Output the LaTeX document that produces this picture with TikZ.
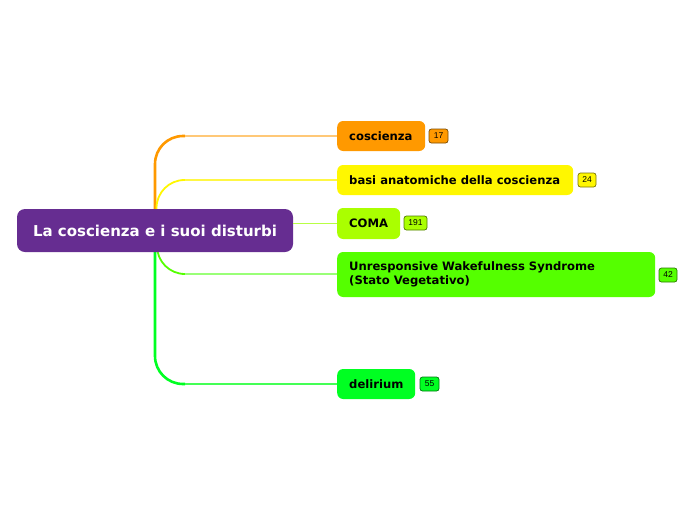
\documentclass[tikz,border=0pt]{standalone}
\usepackage{fontspec}
\setmainfont{DejaVu Sans}
\newfontfamily\badgefont{Liberation Sans}
\definecolor{cpurple}{HTML}{662D91}
\definecolor{corange}{HTML}{FF9900}
\definecolor{lorange}{HTML}{FFC877}
\definecolor{borange}{HTML}{7A4A00}
\definecolor{cyellow}{HTML}{FFF700}
\definecolor{lyellow}{HTML}{FFF744}
\definecolor{byellow}{HTML}{7A7400}
\definecolor{ccoma}{HTML}{AAFF00}
\definecolor{lcoma}{HTML}{B8FF44}
\definecolor{bcoma}{HTML}{4E7A00}
\definecolor{cuws}{HTML}{55FF00}
\definecolor{luws}{HTML}{99FF77}
\definecolor{buws}{HTML}{2A7A00}
\definecolor{cdel}{HTML}{00FF22}
\definecolor{ldel}{HTML}{44FF55}
\definecolor{bdel}{HTML}{007A10}
\newcommand\tbox[2]{\makebox[#1][l]{\raisebox{-1pt}{#2}}}
\tikzset{
  topic/.style={rounded corners=6pt, inner xsep=12pt, inner ysep=0pt, anchor=west,
    font=\bfseries\fontsize{11.6}{14}\selectfont, text=black},
  badge/.style={rounded corners=2.5pt, inner sep=0pt, minimum height=14,
    font=\badgefont\fontsize{8.5}{9}\selectfont, line width=0.7pt, text=black},
  thickbr/.style={rounded corners=28pt},
  thinbr/.style={line width=1.2pt}
}
\begin{document}
\begin{tikzpicture}[x=1pt,y=1pt]
\useasboundingbox (0,0) rectangle (696,-520);
% nodes
\node[topic, fill=corange, minimum width=88, minimum height=30] (c1) at (337,-136) {\tbox{64pt}{coscienza}};
\node[topic, fill=cyellow, minimum width=236, minimum height=30] (c2) at (337,-180) {\tbox{212pt}{basi anatomiche della coscienza}};
\node[topic, fill=ccoma, minimum width=63, minimum height=31] (c3) at (337,-223.5) {\tbox{39pt}{COMA}};
\node[topic, fill=cuws, minimum width=318, minimum height=45] (c4) at (337,-274.5) {\tbox{294pt}{\raisebox{-1pt}{\shortstack[l]{Unresponsive Wakefulness Syndrome\\(Stato Vegetativo)}}}};
\node[topic, fill=cdel, minimum width=78, minimum height=30] (c5) at (337,-384) {\tbox{54pt}{delirium}};
% badges
\node[badge, fill=corange, draw=borange, minimum width=19] (b1) at (438.5,-136) {17};
\node[badge, fill=cyellow, draw=byellow, minimum width=18] (b2) at (587,-180) {24};
\node[badge, fill=ccoma, draw=bcoma, minimum width=23] (b3) at (415.5,-223) {191};
\node[badge, fill=cuws, draw=buws, minimum width=18] (b4) at (668,-275) {42};
\node[badge, fill=cdel, draw=bdel, minimum width=19] (b5) at (429.5,-384) {55};
% connector coordinates
\coordinate (t1) at (155,-231);
\coordinate (t2) at (156.5,-231);
\coordinate (t4) at (157,-231);
\coordinate (t5) at (155,-231);
\coordinate (k1) at (185,-136);
\coordinate (k2) at (185,-180);
\coordinate (k4) at (185,-274);
\coordinate (k5) at (185,-384);
% connectors
\draw[thickbr, line width=2.6pt, cdel] (t5) |- (k5);
\draw[thinbr, ldel] (k5) -- (c5.west);
\draw[thickbr, line width=1.8pt, cuws] (t4) |- (k4);
\draw[thinbr, luws] (k4) -- (c4.west |- k4);
\draw[thickbr, line width=2.6pt, corange] (t1) |- (k1);
\draw[thinbr, lorange] (k1) -- (c1.west);
\draw[thickbr, line width=1.8pt, cyellow] (t2) |- (k2);
\draw[thinbr, lyellow] (k2) -- (c2.west);
% root
\node[rounded corners=8pt, fill=cpurple, minimum width=276, minimum height=43, inner sep=0pt,
  text=white, font=\bfseries\fontsize{15}{18}\selectfont] (root) at (155,-230.5) {La coscienza e i suoi disturbi};
\draw[thinbr, lcoma] (root.east |- c3.west) -- (c3.west);
\end{tikzpicture}
\end{document}
